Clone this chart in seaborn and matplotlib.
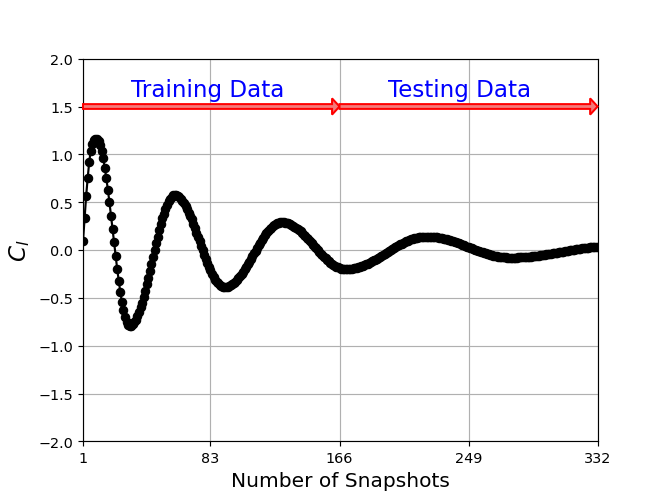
import matplotlib
matplotlib.use("Agg")
import matplotlib.pyplot as plt
import seaborn as sns
import pandas as pd

# ---- data ----
cl_rise = [0.09, 0.33, 0.56, 0.75, 0.92, 1.04, 1.11, 1.15, 1.16]
cl_fall1 = [1.16, 1.14, 1.10, 1.04, 0.96, 0.86, 0.75, 0.63, 0.50, 0.36,
            0.22, 0.08, -0.06, -0.20, -0.32, -0.44, -0.54, -0.63, -0.70, -0.75,
            -0.78, -0.79]
cl_rise2 = [-0.79, -0.77, -0.75, -0.73, -0.69, -0.65, -0.60, -0.55, -0.49, -0.43,
            -0.36, -0.29, -0.22, -0.15, -0.07, 0.00, 0.07, 0.14, 0.21, 0.27,
            0.33, 0.38, 0.43, 0.47, 0.51, 0.53, 0.55, 0.57, 0.57]
cl_fall2 = [0.57, 0.56, 0.55, 0.53, 0.51, 0.49, 0.46, 0.43, 0.39, 0.36,
            0.32, 0.27, 0.23, 0.18, 0.14, 0.09, 0.04, 0.00, -0.05, -0.09,
            -0.14, -0.18, -0.21, -0.25, -0.28, -0.31, -0.33, -0.35, -0.37, -0.38,
            -0.39, -0.39]
cl_rise3 = [-0.389, -0.385, -0.379, -0.371, -0.360, -0.347, -0.332, -0.315, -0.295, -0.275,
            -0.252, -0.228, -0.203, -0.177, -0.150, -0.122, -0.093, -0.064, -0.036, -0.007,
            0.022, 0.050, 0.077, 0.103, 0.128, 0.152, 0.175, 0.195, 0.215, 0.232,
            0.247, 0.260, 0.271, 0.279, 0.285, 0.289, 0.290]
cl_fall3 = [0.289, 0.287, 0.284, 0.279, 0.272, 0.265, 0.256, 0.245, 0.234, 0.222,
            0.208, 0.194, 0.178, 0.162, 0.145, 0.128, 0.110, 0.092, 0.073, 0.054,
            0.036, 0.017, -0.002, -0.020, -0.038, -0.055, -0.072, -0.088, -0.104, -0.118,
            -0.132, -0.144, -0.155, -0.166, -0.175, -0.182, -0.189, -0.194, -0.197, -0.199,
            -0.200]
cl_rise4 = [-0.200, -0.199, -0.197, -0.195, -0.192, -0.189, -0.185, -0.181, -0.175, -0.170,
            -0.164, -0.157, -0.150, -0.143, -0.135, -0.127, -0.118, -0.109, -0.100, -0.090,
            -0.081, -0.071, -0.061, -0.050, -0.040, -0.030, -0.020, -0.010, 0.001, 0.011,
            0.021, 0.030, 0.040, 0.049, 0.058, 0.067, 0.075, 0.083, 0.090, 0.097,
            0.104, 0.110, 0.115, 0.121, 0.125, 0.129, 0.132, 0.135, 0.137, 0.139,
            0.140, 0.140]
cl_fall4 = [0.140, 0.139, 0.138, 0.137, 0.135, 0.133, 0.131, 0.128, 0.125, 0.122,
            0.118, 0.114, 0.110, 0.105, 0.101, 0.096, 0.090, 0.085, 0.079, 0.074,
            0.068, 0.062, 0.055, 0.049, 0.043, 0.036, 0.030, 0.024, 0.017, 0.011,
            0.005, -0.002, -0.008, -0.014, -0.019, -0.025, -0.030, -0.036, -0.041, -0.045,
            -0.050, -0.054, -0.058, -0.062, -0.065, -0.068, -0.071, -0.073, -0.075, -0.077,
            -0.078, -0.079, -0.080, -0.080]
cl_rise5 = [-0.080, -0.080, -0.079, -0.079, -0.078, -0.078, -0.077, -0.076, -0.074, -0.073,
            -0.072, -0.070, -0.069, -0.067, -0.065, -0.063, -0.061, -0.059, -0.057, -0.054,
            -0.052, -0.050, -0.047, -0.044, -0.042, -0.039, -0.036, -0.033, -0.031, -0.028,
            -0.025, -0.022, -0.019, -0.016, -0.013, -0.010, -0.007, -0.005, -0.002, 0.001,
            0.004, 0.006, 0.009, 0.012, 0.014, 0.016, 0.019, 0.021, 0.023, 0.025,
            0.027, 0.029, 0.031, 0.032, 0.034, 0.035]

cl_values = (cl_rise + cl_fall1 + cl_rise2 + cl_fall2 + cl_rise3 + cl_fall3
             + cl_rise4 + cl_fall4 + cl_rise5)
snapshots = list(range(1, len(cl_values) + 1))

xticks = [1, 83, 166, 249, 332]
yticks = [-2.0, -1.5, -1.0, -0.5, 0.0, 0.5, 1.0, 1.5, 2.0]
region_names = ["Training Data", "Testing Data"]
region_starts = [1, 166]
region_ends = [166, 332]
region_label_x = [81, 243]
arrow_level = 1.5
label_level = 1.61

df = pd.DataFrame({"snapshot": snapshots, "cl": cl_values})

fig, ax = plt.subplots(figsize=(6.4, 4.79), dpi=103.75)
sns.lineplot(data=df, x="snapshot", y="cl", ax=ax, color="black",
             marker="o", markersize=5.8, markeredgecolor="black",
             markeredgewidth=0.8, linewidth=1.5, sort=False)

ax.set_xlim(xticks[0], xticks[-1])
ax.set_ylim(yticks[0], yticks[-1])
ax.set_xticks(xticks)
ax.set_yticks(yticks)
ax.grid(True, color="#b0b0b0", linewidth=0.8)
ax.tick_params(labelsize=10)

for x0, x1, name, lx in zip(region_starts, region_ends, region_names, region_label_x):
    ax.arrow(x0, arrow_level, x1 - x0, 0, width=0.05, head_width=0.17,
             head_length=4.8, length_includes_head=True,
             facecolor="#f47a7a", edgecolor="red", linewidth=1.4, zorder=4,
             clip_on=False)
    ax.text(lx, label_level, name, color="blue", fontsize=16,
            ha="center", va="baseline", zorder=5)

ax.set_xlabel("Number of Snapshots", fontsize=14)
ax.set_ylabel("$C_l$", fontsize=16)

fig.savefig("out.png", dpi=103.75)
